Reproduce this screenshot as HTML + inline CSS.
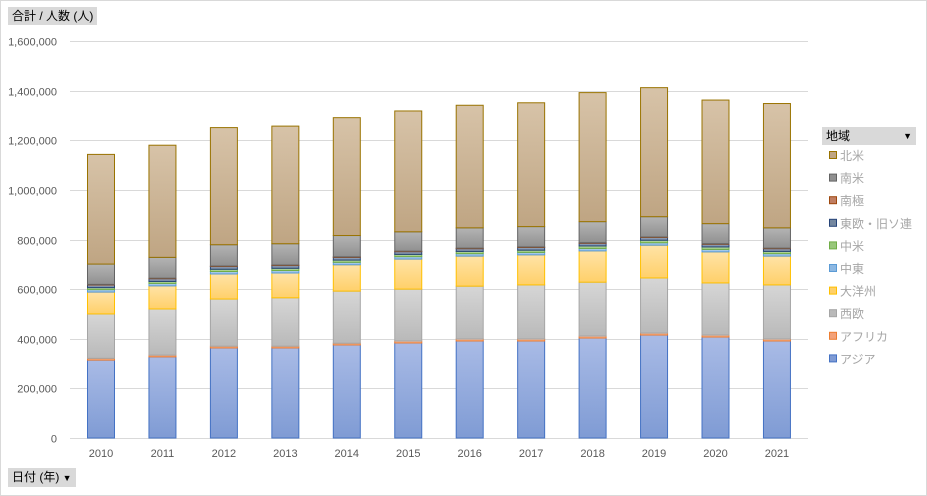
<!DOCTYPE html>
<html><head><meta charset="utf-8">
<style>
body{margin:0;background:#fff;font-family:"Liberation Sans","Noto Sans CJK JP",sans-serif;}
#wrap{position:relative;width:927px;height:496px;overflow:hidden;}
.btn{position:absolute;background:#d9d9d9;font-size:12px;color:#000;line-height:18px;padding:0 4px;}
</style></head><body>
<div id="wrap">
<svg id="chart" width="927" height="496" style="position:absolute;left:0;top:0">
<rect x="0.5" y="0.5" width="926" height="495" fill="#fff" stroke="#d9d9d9"/>
</svg>
<div class="btn" style="left:8px;top:7px;">合計 / 人数 (人)</div>
<div class="btn" style="left:8px;top:468px;">日付 (年) <span style="font-size:9px">▼</span></div>
<div class="btn" style="left:822px;top:127px;width:86px;">地域<span style="float:right;font-size:9px">▼</span></div>
</div>
<script>
const years=["2010","2011","2012","2013","2014","2015","2016","2017","2018","2019","2020","2021"];
const asia=[314,327,363,363,375,383,391,391,403,415,407,391];
const africa=[7,7,7,7,7,8,8,8,8,8,8,8];
const westEurope=[179,186,190,195,210,209,213,218,217,222,210,218];
const oceania=[88,93,101,100,106,121,121,121,126,132,125,116];
const middleEast=[10,10,10,10,10,10,10,10,10,10,10,10];
const centralAmerica=[8,8,9,9,9,9,9,9,10,10,10,9];
const eastEurope=[11,11,11,11,11,11,11,11,11,11,11,11];
const antarctica=[2,2,2,2,2,2,2,2,2,2,2,2];
const southAmerica=[82,84,86,86,86,78,82,82,85,82,81,82];
const northAmerica=[442,452,472,474,475,487,494,499,520,520,498,501];
const yTicks=[0,200000,400000,600000,800000,1000000,1200000,1400000,1600000];
const seriesNames=["アジア","アフリカ","西欧","大洋州","中東","中米","東欧・旧ソ連","南極","南米","北米"];
const seriesData=[asia,africa,westEurope,oceania,middleEast,centralAmerica,eastEurope,antarctica,southAmerica,northAmerica];
const fills=[["#a9bbe6","#7f9bd4"],["#f8c4a4","#f3a27a"],["#d6d6d6","#b9b9b9"],["#ffe3a6","#ffd06a"],["#b6d4ef","#8db8e2"],["#c0deab","#98c77a"],["#9aa9c2","#74879f"],["#d9a48e","#c07e62"],["#b4b4b4","#909090"],["#d7c3a8","#bfa583"]];
const strokes=["#4472c4","#ed7d31","#a5a5a5","#ffc000","#5b9bd5","#70ad47","#264478","#9e480e","#636363","#997300"];
const NS="http://www.w3.org/2000/svg";
const svg=document.getElementById('chart');
const y0=438,yTop=41,x0=70,x1=808;
function yS(v){return y0-(v/1600000)*(y0-yTop);}
function xS(i){return 101+i*61.45;}
function el(t,a){const e=document.createElementNS(NS,t);for(const k in a)e.setAttribute(k,a[k]);svg.appendChild(e);return e;}
const defs=el('defs',{});
fills.forEach((f,i)=>{const g=document.createElementNS(NS,'linearGradient');g.setAttribute('id','g'+i);g.setAttribute('x1','0');g.setAttribute('y1','0');g.setAttribute('x2','0');g.setAttribute('y2','1');
const s1=document.createElementNS(NS,'stop');s1.setAttribute('offset','0');s1.setAttribute('stop-color',f[0]);
const s2=document.createElementNS(NS,'stop');s2.setAttribute('offset','1');s2.setAttribute('stop-color',f[1]);g.appendChild(s1);g.appendChild(s2);defs.appendChild(g);});
yTicks.forEach(t=>{
const y=Math.round(yS(t))+0.5;
const l=el('line',{x1:x0,x2:x1,y1:y,y2:y,stroke:'#d9d9d9'});


const tx=el('text',{x:57,y:y+4,'text-anchor':'end','font-size':'11',fill:'#595959'});
tx.textContent=t.toLocaleString('en-US');


});
years.forEach((yr,i)=>{
let cum=0;const cx=xS(i);
seriesData.forEach((arr,s)=>{
const v=arr[i]*1000;const ya=yS(cum),yb=yS(cum+v);cum+=v;
const r=el('rect',{x:cx-13.5,y:yb,width:27,height:Math.max(ya-yb,0.5),fill:'url(#g'+s+')',stroke:strokes[s],'stroke-width':'1'});


});
const tx=el('text',{x:cx,y:457,'text-anchor':'middle','font-size':'11',fill:'#595959'});
tx.textContent=yr;


});
for(let k=0;k<10;k++){
const s=9-k;const ly=156+k*22.6;
const r=el('rect',{x:829.5,y:ly-4.5,width:7,height:7,fill:fills[s][1],stroke:strokes[s]});


const t=el('text',{x:840,y:ly+4,'font-size':'12',fill:'#a6a6a6'});
t.textContent=seriesNames[s];


}
</script>
</body></html>
